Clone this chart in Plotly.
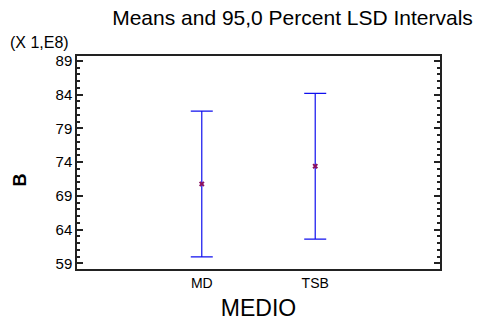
import plotly.graph_objects as go

categories = ["MD", "TSB"]
means = [70.77, 73.40]
lsd_half = [10.8, 10.8]
y_ticks = [59, 64, 69, 74, 79, 84, 89]

FONT = "Arial, Liberation Sans, sans-serif"

fig = go.Figure()
fig.add_trace(go.Scatter(
    x=categories, y=means, mode="markers",
    marker=dict(symbol="x", size=5, color="#8B1060", line=dict(width=0)),
    error_y=dict(type="data", array=lsd_half, symmetric=True,
                 color="#1010EE", thickness=1.2, width=11),
    showlegend=False,
))

fig.update_layout(
    width=478, height=328,
    margin=dict(l=77, r=38, t=56, b=59),
    paper_bgcolor="white", plot_bgcolor="white",
    font=dict(family=FONT, color="black"),
    title=dict(text="Means and 95,0 Percent LSD Intervals", x=0.612, xanchor="center",
               y=0.945, yanchor="middle", font=dict(size=21, family=FONT)),
    xaxis=dict(type="category", range=[-1.1, 2.1], showline=True, linecolor="#222",
               linewidth=1.5, mirror=True, ticks="", showgrid=False, zeroline=False,
               tickfont=dict(size=14), title=dict(text="MEDIO", font=dict(size=23), standoff=10)),
    yaxis=dict(range=[58.16, 89.74], showline=True, linecolor="#222", linewidth=1.5,
               mirror="ticks", ticks="inside", ticklen=6, tickcolor="#222", tickwidth=1.5,
               tickvals=y_ticks, ticktext=[str(v) for v in y_ticks],
               showgrid=False, zeroline=False, tickfont=dict(size=15),
               minor=dict(dtick=1, tick0=59, ticks="inside", ticklen=3, tickcolor="#222", tickwidth=1.5)),
)
fig.add_annotation(text="(X 1,E8)", xref="paper", yref="paper", x=-0.19, xanchor="left",
                   y=1.0, yanchor="bottom", yshift=3, showarrow=False, font=dict(size=16))
fig.add_annotation(text="<b>B</b>", xref="paper", yref="paper", x=-0.157, xanchor="center",
                   y=0.415, yanchor="middle", textangle=-90, showarrow=False, font=dict(size=18))

fig.write_html("out.html")
